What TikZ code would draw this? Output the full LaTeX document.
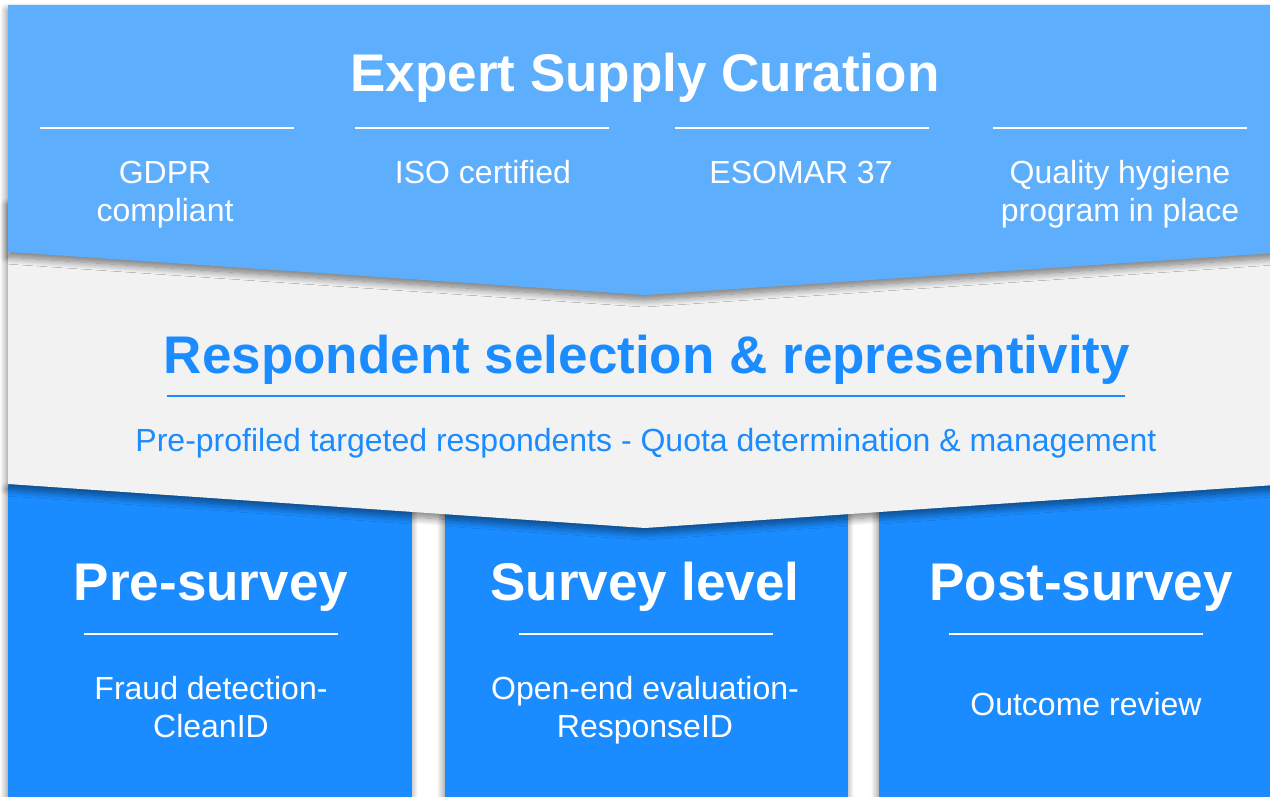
\documentclass[tikz,border=0pt]{standalone}
\usepackage{fontspec}
\setmainfont{Liberation Sans}
\usetikzlibrary{shadows.blur}
\definecolor{skyblue}{HTML}{5EAEFE}
\definecolor{deepblue}{HTML}{1A8CFF}
\definecolor{panelgrey}{HTML}{F2F2F2}
\begin{document}
\begin{tikzpicture}[x=1pt,y=-1pt,
    heading/.style={font=\fontsize{53}{60}\selectfont\bfseries,anchor=base,inner sep=0pt},
    item/.style={font=\fontsize{32}{38}\selectfont,align=center,anchor=base,inner sep=0pt},
    rule/.style={line width=2pt},
    panel/.style={blur shadow={shadow xshift=-1pt,shadow yshift=-5pt,
        shadow blur radius=7pt,shadow blur steps=12,shadow opacity=50}}]
  \useasboundingbox (0,0) rectangle (1270,797);
  \clip (0,0) rectangle (1270,797);

  % the three stages
  \fill[deepblue,panel] (8,484) rectangle (412,830);
  \fill[deepblue,panel] (445,484) rectangle (848,830);
  \fill[deepblue,panel] (879,484) rectangle (1290,830);

  % grey band, pointing down
  \fill[panelgrey,panel] (8,200) -- (1290,200) -- (1290,484) -- (645,528) -- (8,484) -- cycle;

  % light blue band on top
  \fill[skyblue,panel] (8,5) -- (1290,5) -- (1290,252) -- (645,295) -- (8,252) -- cycle;

  % top band (base of a two-line node is its last line)
  \begin{scope}[white]
    \node[heading] (curation) at (645,92) {Expert Supply Curation};
    \draw[rule] (40,128) -- (294,128);
    \draw[rule] (355,128) -- (609,128);
    \draw[rule] (675,128) -- (929,128);
    \draw[rule] (993,128) -- (1247,128);
    \node[item] (gdpr) at (165,222) {GDPR\\compliant};
    \node[item] (iso) at (483,184) {ISO certified};
    \node[item] (esomar) at (801,184) {ESOMAR 37};
    \node[item] (hygiene) at (1120,222) {Quality hygiene\\program in place};
  \end{scope}

  % grey band
  \begin{scope}[deepblue]
    \node[heading] (selection) at (647,373) {Respondent selection \& representivity};
    \draw[rule] (167,396) -- (1125,396);
    \node[item] (quota) at (646,451) {Pre-profiled targeted respondents - Quota determination \& management};
  \end{scope}

  % stages
  \begin{scope}[white]
    \node[heading] (pre) at (211,600) {Pre-survey};
    \node[heading] (survey) at (645,600) {Survey level};
    \node[heading] (post) at (1081,600) {Post-survey};
    \draw[rule] (84,634) -- (338,634);
    \draw[rule] (519,634) -- (773,634);
    \draw[rule] (949,634) -- (1203,634);
    \node[item] (fraud) at (211,737) {Fraud detection-\\CleanID};
    \node[item] (openend) at (645,737) {Open-end evaluation-\\ResponseID};
    \node[item] (outcome) at (1086,715) {Outcome review};
  \end{scope}
\end{tikzpicture}
\end{document}
